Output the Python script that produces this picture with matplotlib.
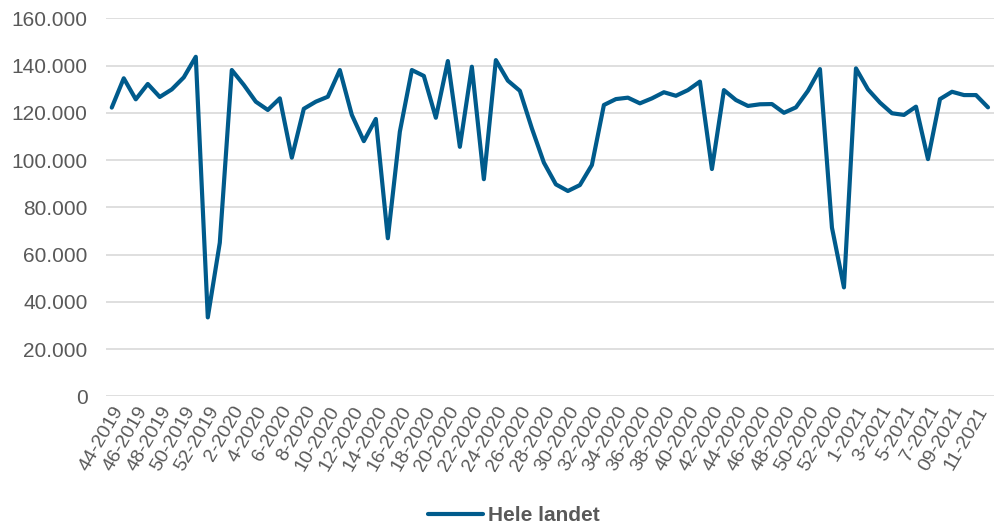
import matplotlib
matplotlib.use('Agg')
import matplotlib.pyplot as plt
from matplotlib.ticker import FuncFormatter

# ugedata fra 44-2019 til 12-2021
weeks = ([f'{w}-2019' for w in range(44, 53)]
         + [f'{w}-2020' for w in range(1, 54)]
         + [f'{w}-2021' for w in range(1, 9)]
         + ['09-2021', '10-2021', '11-2021', '12-2021'])

values = [122200, 134600, 125700, 132200, 126700, 129900, 135000, 143700, 33400, 65000,
          138100, 131800, 124700, 121200, 126100, 101000, 121700, 124700, 126800, 138100,
          119100, 108000, 117400, 66900, 112000, 138100, 135600, 117900, 141900, 105600,
          139500, 91900, 142300, 133600, 129300, 113400, 98900, 89700, 86900, 89400,
          97900, 123300, 125800, 126400, 124000, 126100, 128700, 127200, 129600, 133200,
          96200, 129600, 125400, 122900, 123600, 123700, 120000, 122300, 129300, 138500,
          71400, 46100, 138800, 129900, 124300, 119800, 119100, 122600, 100400, 125800,
          128900, 127500, 127500, 122300]

series_name = 'Hele landet'

plt.rcParams['font.family'] = ['Liberation Sans', 'DejaVu Sans']
fig = plt.figure(figsize=(9.94, 5.27), dpi=100)
ax = fig.add_axes([0.1064, 0.248, 0.8936, 0.7173])

x = list(range(len(values)))
ax.plot(x, values, color='#005b8c', linewidth=3.0, solid_joinstyle='round',
        solid_capstyle='round', label=series_name)

ax.set_xlim(-0.5, len(values) - 0.5)
ax.set_ylim(0, 160000)
ax.set_yticks(range(0, 160001, 20000))
ax.yaxis.set_major_formatter(FuncFormatter(lambda v, p: f'{int(v):,}'.replace(',', '.')))
ax.grid(axis='y', color='#d9d9d9', linewidth=1.2)
ax.set_axisbelow(True)

ax.set_xticks(x[::2])
ax.set_xticklabels(weeks[::2], rotation=60, ha='right', rotation_mode='anchor')

for s in ax.spines.values():
    s.set_visible(False)
ax.tick_params(axis='both', length=0, colors='#595959')
ax.tick_params(axis='y', pad=13, labelsize=15)
ax.tick_params(axis='x', pad=5, labelsize=14)

fig.legend(loc='center', bbox_to_anchor=(0.517, 0.022), frameon=False,
           prop={'weight': 'bold', 'size': 15}, labelcolor='#595959',
           handlelength=2.6, handletextpad=0.25)

fig.savefig('out.png', dpi=100)
